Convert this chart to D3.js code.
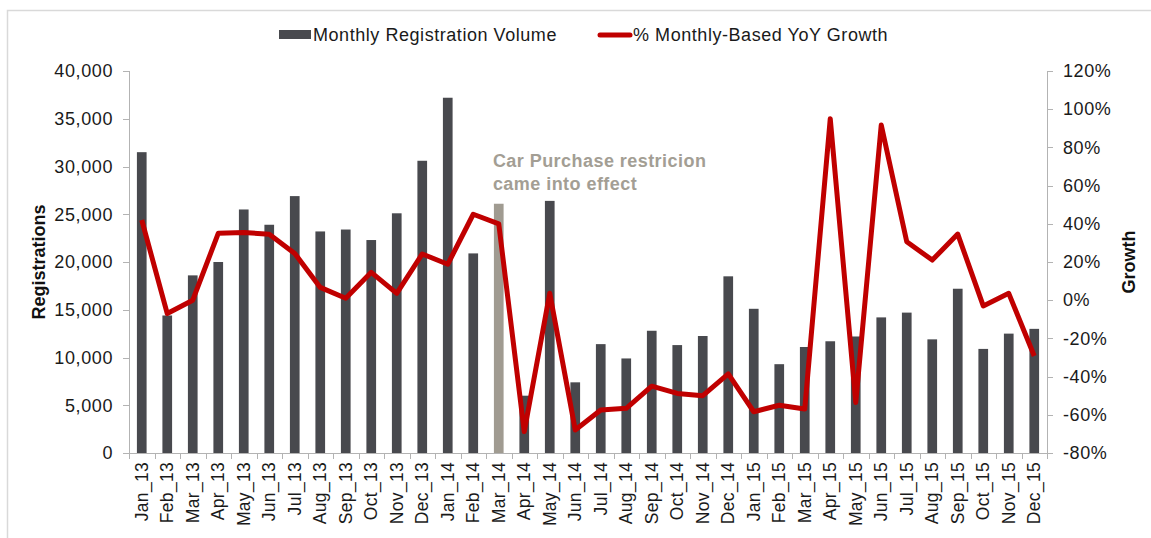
<!DOCTYPE html>
<html>
<meta charset="utf-8" />
<script src="https://cdn.jsdelivr.net/npm/d3@7"></script>
<style>
  html, body { margin: 0; padding: 0; background: #fff; }
  svg { font-family: Arial, "Liberation Sans", sans-serif; display: block; }
  .axis text { font-size: 18px; fill: #1a1a1a; letter-spacing: 0.6px; }
  .axis path, .axis line { stroke: #b3b3b3; stroke-width: 1px; shape-rendering: crispEdges; }
  .x-axis text { font-size: 17.5px; letter-spacing: 0.3px; }
  .legend text { font-size: 18px; fill: #1a1a1a; letter-spacing: 0.55px; }
  .title { font-size: 18px; font-weight: bold; fill: #111; }
  .note { font-size: 18px; font-weight: bold; fill: #a39e94; letter-spacing: 0.45px; }
</style>
<body>
<div id="chart"></div>
<script>
  // data
  var months = ['Jan_13', 'Feb_13', 'Mar_13', 'Apr_13', 'May_13', 'Jun_13', 'Jul_13', 'Aug_13', 'Sep_13', 'Oct_13', 'Nov_13', 'Dec_13',
    'Jan_14', 'Feb_14', 'Mar_14', 'Apr_14', 'May_14', 'Jun_14', 'Jul_14', 'Aug_14', 'Sep_14', 'Oct_14', 'Nov_14', 'Dec_14',
    'Jan_15', 'Feb_15', 'Mar_15', 'Apr_15', 'May_15', 'Jun_15', 'Jul_15', 'Aug_15', 'Sep_15', 'Oct_15', 'Nov_15', 'Dec_15'];
  var registrations = [31500, 14400, 18600, 20000, 25500, 23900, 26900, 23200, 23400, 22300, 25100, 30600,
    37200, 20900, 26100, 6000, 26400, 7400, 11400, 9900, 12800, 11300, 12250, 18500,
    15100, 9300, 11100, 11700, 12200, 14200, 14700, 11900, 17200, 10900, 12500, 13000];
  var growth = [42, -7, 0, 35, 35.5, 34.5, 24.5, 6.7, 1, 14.6, 3.6, 24.2,
    18.8, 45, 40, -68.8, 3.6, -68, -57.5, -56.6, -45, -48.8, -50, -38.6,
    -58.4, -55, -57, 95, -53.6, 91.7, 30.6, 21, 34.6, -3, 3.6, -29.2];
  var highlightMonth = 'Mar_14';
  var leftTicks = [0, 5000, 10000, 15000, 20000, 25000, 30000, 35000, 40000];
  var rightTicks = [-80, -60, -40, -20, 0, 20, 40, 60, 80, 100, 120];
  var noteLines = ['Car Purchase restricion', 'came into effect'];

  var W = 1151, H = 538;
  var plotLeft = 129, plotRight = 1047, plotTop = 71, plotBottom = 453;

  var svg = d3.select('#chart').append('svg').attr('width', W).attr('height', H);

  // frame
  svg.append('path').attr('d', 'M7.5,' + H + 'V10.5H' + W)
    .attr('fill', 'none').attr('stroke', '#d9d9d9').attr('stroke-width', 1.5);

  var x = d3.scaleBand().domain(months).range([plotLeft, plotRight]).paddingInner(0.62).paddingOuter(0.31);
  var y = d3.scaleLinear().domain([0, 40000]).range([plotBottom, plotTop]);
  var y2 = d3.scaleLinear().domain([-80, 120]).range([plotBottom, plotTop]);

  // bars
  svg.append('g').selectAll('rect').data(months).enter().append('rect')
    .attr('x', function (d) { return x(d); })
    .attr('width', x.bandwidth())
    .attr('y', function (d, i) { return y(registrations[i]); })
    .attr('height', function (d, i) { return plotBottom - y(registrations[i]); })
    .attr('fill', function (d) { return d === highlightMonth ? '#a09b91' : '#48494e'; });

  // left axis
  svg.append('g').attr('class', 'axis')
    .attr('transform', 'translate(' + plotLeft + ',0)')
    .call(d3.axisLeft(y).tickValues(leftTicks).tickSizeInner(6).tickSizeOuter(6).tickPadding(10).tickFormat(d3.format(',')));

  // right axis
  svg.append('g').attr('class', 'axis')
    .attr('transform', 'translate(' + plotRight + ',0)')
    .call(d3.axisRight(y2).tickValues(rightTicks).tickSizeInner(6).tickSizeOuter(6).tickPadding(10).tickFormat(function (d) { return d + '%'; }));

  // x axis with ticks between categories
  var xAxis = svg.append('g').attr('class', 'axis x-axis').attr('transform', 'translate(0,' + plotBottom + ')');
  xAxis.append('line').attr('x1', plotLeft).attr('x2', plotRight).attr('y1', 0.5).attr('y2', 0.5);
  xAxis.selectAll('line.tk').data(d3.range(months.length + 1)).enter().append('line')
    .attr('class', 'tk')
    .attr('x1', function (i) { return Math.round(plotLeft + i * x.step()) + 0.5; })
    .attr('x2', function (i) { return Math.round(plotLeft + i * x.step()) + 0.5; })
    .attr('y1', 0).attr('y2', 6);
  xAxis.selectAll('text').data(months).enter().append('text')
    .attr('transform', function (d) { return 'translate(' + (x(d) + x.bandwidth() / 2 + 6) + ',9) rotate(-90)'; })
    .attr('text-anchor', 'end')
    .text(function (d) { return d; });

  // growth line
  var line = d3.line()
    .x(function (d, i) { return x(months[i]) + x.bandwidth() / 2; })
    .y(function (d) { return y2(d); });
  svg.append('path').datum(growth)
    .attr('d', line)
    .attr('fill', 'none')
    .attr('stroke', '#c00000')
    .attr('stroke-width', 5)
    .attr('stroke-linejoin', 'round');

  // annotation
  svg.append('g').selectAll('text').data(noteLines).enter().append('text')
    .attr('class', 'note')
    .attr('x', x(highlightMonth) - 1)
    .attr('y', function (d, i) { return 167 + i * 23; })
    .text(function (d) { return d; });

  // axis titles
  svg.append('text').attr('class', 'title')
    .attr('transform', 'translate(45,' + (plotTop + plotBottom) / 2 + ') rotate(-90)')
    .attr('text-anchor', 'middle').text('Registrations');
  svg.append('text').attr('class', 'title')
    .attr('transform', 'translate(1135,' + (plotTop + plotBottom) / 2 + ') rotate(-90)')
    .attr('text-anchor', 'middle').text('Growth');

  // legend
  var legend = svg.append('g').attr('class', 'legend');
  legend.append('rect').attr('x', 279).attr('y', 30).attr('width', 32).attr('height', 9).attr('fill', '#48494e');
  legend.append('text').attr('x', 313).attr('y', 41).text('Monthly Registration Volume');
  legend.append('line').attr('x1', 600).attr('x2', 630).attr('y1', 35).attr('y2', 35)
    .attr('stroke', '#c00000').attr('stroke-width', 5).attr('stroke-linecap', 'round');
  legend.append('text').attr('x', 633).attr('y', 41).text('% Monthly-Based YoY Growth');
</script>
</body>
</html>
